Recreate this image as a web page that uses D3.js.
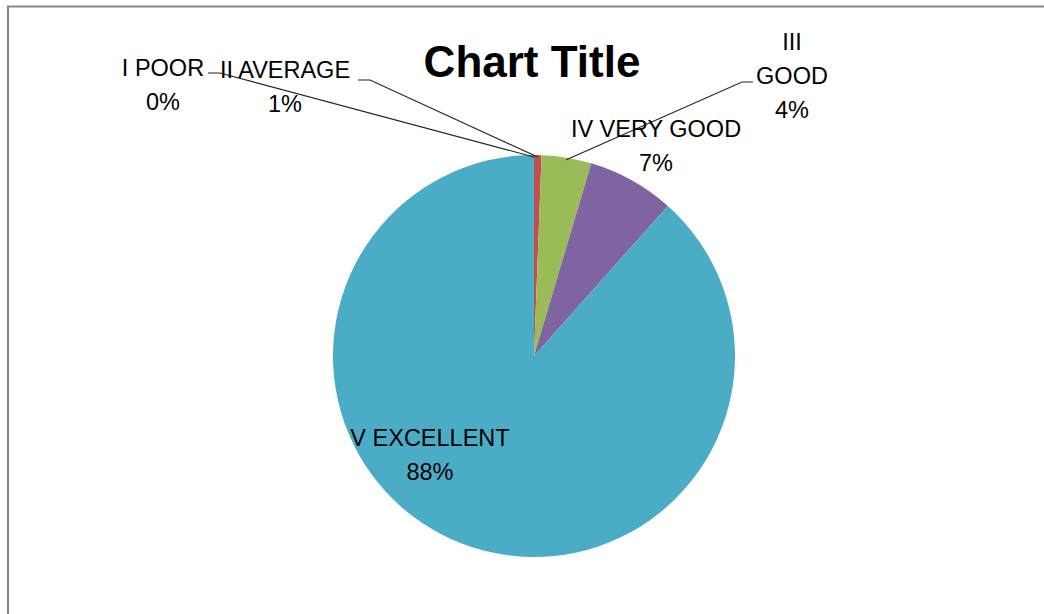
<!DOCTYPE html>
<html>
<head>
<meta charset="utf-8">
<script src="https://cdn.jsdelivr.net/npm/d3@7"></script>
<style>
  body { margin: 0; background: #fff; }
  svg { display: block; }
  text { font-family: "Liberation Sans", Arial, sans-serif; fill: #000; }
</style>
</head>
<body>
<div id="vis"></div>
<script>
// data (share of responses, %)
var categories = ["I POOR", "II AVERAGE", "III GOOD", "IV VERY GOOD", "V EXCELLENT"];
var values = [0, 0.6, 4.0, 7.0, 88.4];
var colors = ["#4f81bd", "#c0504d", "#9bbb59", "#8064a2", "#4bacc6"];
// label text lines (category name may wrap)
var labelLines = [["I POOR"], ["II AVERAGE"], ["III", "GOOD"], ["IV VERY GOOD"], ["V EXCELLENT"]];

var width = 1044, height = 614;
var cx = 534, cy = 356, radius = 201;
var lineH = 34;

// label layout: centre x, first baseline y, leader elbow (null = none)
var labelPos = [
  {x: 163, y: 76, elbow: [[208, 73], [220, 73]]},
  {x: 285, y: 78, elbow: [[358, 80], [370, 80]]},
  {x: 792, y: 50, elbow: [[753, 82], [742, 82]]},
  {x: 656, y: 137, elbow: null},
  {x: 430, y: 446, elbow: null}
];

var svg = d3.select("#vis")
    .append("svg")
    .attr("width", width)
    .attr("height", height);

// chart frame
svg.append("rect")
    .attr("x", 8)
    .attr("y", 6.5)
    .attr("width", width)
    .attr("height", height)
    .attr("fill", "#fff")
    .attr("stroke", "#878787")
    .attr("stroke-width", 2);

svg.append("text")
    .attr("x", 532)
    .attr("y", 77)
    .attr("text-anchor", "middle")
    .attr("font-weight", "bold")
    .attr("font-size", "44px")
    .text("Chart Title");

var data = categories.map(function(c, i) {
  return {name: c, value: values[i], color: colors[i], lines: labelLines[i], pos: labelPos[i]};
});

var total = d3.sum(values);

var pie = d3.pie()
    .value(function(d) { return d.value; })
    .sort(null);

var arc = d3.arc()
    .innerRadius(0)
    .outerRadius(radius);

var arcs = pie(data);

var g = svg.append("g")
    .attr("transform", "translate(" + cx + "," + cy + ")");

g.selectAll("path.slice")
    .data(arcs)
    .enter()
    .append("path")
    .attr("class", "slice")
    .attr("d", arc)
    .attr("fill", function(d) { return d.data.color; });

// leader lines from label elbow to slice edge
var leaders = arcs.filter(function(d) { return d.data.pos.elbow; });

svg.selectAll("polyline.leader")
    .data(leaders)
    .enter()
    .append("polyline")
    .attr("class", "leader")
    .attr("fill", "none")
    .attr("stroke", "#222")
    .attr("stroke-width", 1.1)
    .attr("points", function(d) {
      var a = (d.startAngle + d.endAngle) / 2;
      var r = radius - 2;
      var end = [cx + r * Math.sin(a), cy - r * Math.cos(a)];
      var pts = d.data.pos.elbow.concat([end]);
      return pts.map(function(p) { return p.join(","); }).join(" ");
    });

var fmt = function(v) { return Math.round(v / total * 100) + "%"; };

var labels = svg.selectAll("text.label")
    .data(arcs)
    .enter()
    .append("text")
    .attr("class", "label")
    .attr("text-anchor", "middle")
    .attr("font-size", "23.5px");

labels.each(function(d) {
  var t = d3.select(this);
  var lines = d.data.lines.concat([fmt(d.data.value)]);
  lines.forEach(function(s, i) {
    t.append("tspan")
        .attr("x", d.data.pos.x)
        .attr("y", d.data.pos.y + i * lineH)
        .text(s);
  });
});
</script>
</body>
</html>
